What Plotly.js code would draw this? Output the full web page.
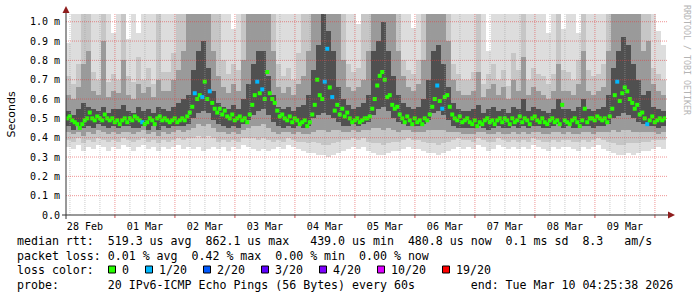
<!DOCTYPE html>
<html><head><meta charset="utf-8">
<script src="https://cdn.plot.ly/plotly-3.0.1.min.js"></script>
<style>html,body{margin:0;padding:0;background:#fff}#chart{width:697px;height:297px}</style>
</head><body><div id="chart"></div>
<script>
// ---------- data (values in milliseconds) ----------
const startTime = '2026-02-28 04:25:38';
const totalHours = 240;
const medianStepHours = 1;
const smokeStepHours = 2;

// median RTT, one value per hour
const medianRtt = [
0.50,0.51,0.49,0.48,0.47,0.45,0.47,0.49,0.50,0.53, 0.50,0.49,0.51,0.50,0.49,0.52,0.50,0.49,0.50,0.48,
0.49,0.47,0.49,0.50,0.48,0.50,0.49,0.51,0.50,0.49, 0.48,0.47,0.48,0.50,0.49,0.47,0.50,0.51,0.49,0.50,
0.49,0.48,0.49,0.50,0.48,0.49,0.50,0.49,0.51,0.53, 0.56,0.63,0.60,0.62,0.61,0.69,0.60,0.64,0.58,0.55,
0.53,0.55,0.52,0.54,0.51,0.50,0.52,0.49,0.50,0.51, 0.49,0.50,0.48,0.52,0.57,0.62,0.69,0.63,0.65,0.60,
0.74,0.63,0.60,0.58,0.54,0.51,0.52,0.50,0.49,0.51, 0.48,0.50,0.49,0.47,0.48,0.49,0.46,0.48,0.52,0.57,
0.70,0.62,0.60,0.69,0.86,0.66,0.61,0.54,0.57,0.52, 0.55,0.51,0.53,0.50,0.48,0.49,0.50,0.48,0.49,0.50,
0.50,0.51,0.55,0.60,0.67,0.72,0.74,0.70,0.61,0.62, 0.57,0.55,0.56,0.52,0.50,0.48,0.51,0.49,0.47,0.50,
0.48,0.49,0.47,0.50,0.49,0.52,0.56,0.60,0.67,0.59, 0.55,0.61,0.62,0.56,0.52,0.50,0.49,0.51,0.48,0.49,
0.50,0.48,0.47,0.49,0.46,0.48,0.47,0.49,0.50,0.48, 0.49,0.47,0.49,0.50,0.48,0.50,0.49,0.47,0.50,0.48,
0.49,0.51,0.48,0.50,0.49,0.47,0.50,0.51,0.49,0.48, 0.50,0.48,0.47,0.49,0.50,0.48,0.49,0.47,0.57,0.49,
0.48,0.47,0.49,0.50,0.48,0.46,0.49,0.55,0.48,0.50, 0.50,0.49,0.51,0.50,0.49,0.50,0.48,0.51,0.55,0.62,
0.69,0.59,0.63,0.66,0.64,0.60,0.58,0.55,0.57,0.52, 0.53,0.50,0.47,0.49,0.51,0.48,0.49,0.50,0.49,0.50
];
// lost pings (out of 20) for each median value
const lossCount = [
0,0,0,0,0,0,0,0,0,0,0,0,0,0,0,0,0,0,0,0,
0,0,0,0,0,0,0,0,0,0,1,0,0,0,0,0,0,0,0,0,
0,0,0,0,0,0,0,0,0,0,0,1,0,0,1,0,0,1,0,0,
0,0,0,0,0,0,0,0,0,0,0,0,0,0,0,0,1,0,1,0,
0,0,0,0,0,0,0,0,0,0,0,0,0,0,0,0,0,0,0,0,
0,0,0,1,1,0,1,0,0,0,0,0,0,0,0,0,0,0,0,0,
0,0,0,0,0,0,0,0,0,0,0,0,0,0,0,0,0,0,0,0,
0,0,0,0,0,0,0,0,1,0,1,0,0,0,0,0,0,0,0,0,
0,0,0,0,0,0,0,0,0,0,0,0,0,0,0,0,0,0,0,0,
0,0,0,0,0,0,0,0,0,0,0,0,0,0,0,0,0,0,0,0,
0,0,0,0,0,0,0,0,0,0,0,0,0,0,0,0,0,0,0,0,
1,0,0,0,0,0,0,0,0,0,0,0,1,0,0,0,0,0,0,0
];

// smoke: spread of the 20 pings, one column every 2 hours, outermost (1) to innermost (4)
const smokeLow1 = [
0.35,0.34,0.36,0.33,0.35,0.34,0.36,0.35,0.33,0.35, 0.34,0.36,0.35,0.33,0.35,0.36,0.34,0.35,0.33,0.35,
0.34,0.35,0.36,0.34,0.35,0.34,0.35,0.33,0.34,0.35, 0.34,0.35,0.33,0.35,0.34,0.36,0.35,0.34,0.33,0.34,
0.33,0.34,0.35,0.34,0.36,0.35,0.34,0.33,0.32,0.32, 0.31,0.31,0.30,0.31,0.32,0.33,0.34,0.35,0.34,0.35,
0.33,0.32,0.31,0.31,0.32,0.33,0.33,0.34,0.35,0.34, 0.34,0.33,0.32,0.32,0.31,0.32,0.33,0.34,0.35,0.34,
0.35,0.34,0.36,0.35,0.33,0.34,0.36,0.35,0.34,0.35, 0.34,0.35,0.34,0.36,0.35,0.34,0.33,0.35,0.34,0.35,
0.35,0.34,0.33,0.35,0.34,0.35,0.36,0.34,0.33,0.32, 0.31,0.31,0.32,0.31,0.32,0.33,0.33,0.34,0.35,0.34
];
const smokeHigh1 = [
0.89,1.10,1.10,1.10,1.10,1.10,1.10,1.10,1.10,0.94, 1.10,1.10,0.91,1.10,0.94,1.10,1.10,1.10,0.99,1.10,
1.10,1.10,1.10,1.10,1.10,1.10,1.10,1.10,1.10,1.10, 1.10,1.10,1.10,0.96,1.10,1.10,1.10,1.10,1.10,1.10,
1.10,1.10,1.10,1.10,1.10,1.10,1.10,0.96,1.10,1.10, 1.10,1.10,1.10,1.10,1.10,1.10,1.10,1.10,0.99,1.10,
1.10,1.10,1.10,1.10,1.10,1.10,1.10,1.10,1.10,0.97, 1.10,1.10,1.10,1.10,1.10,1.10,1.10,1.10,1.10,1.10,
1.10,1.10,1.10,1.10,0.85,1.10,1.10,1.10,1.10,1.10, 1.10,1.10,1.10,1.10,1.10,1.10,0.94,1.10,1.10,0.96,
1.10,1.10,0.94,1.10,1.10,1.10,1.10,1.10,1.10,1.10, 1.10,1.10,1.10,1.10,1.10,1.10,1.10,1.10,0.95,0.88
];
const smokeLow2 = [
0.39,0.38,0.40,0.37,0.39,0.38,0.40,0.39,0.38,0.39, 0.38,0.40,0.39,0.38,0.39,0.40,0.38,0.39,0.37,0.39,
0.38,0.39,0.40,0.39,0.40,0.40,0.41,0.40,0.41,0.40, 0.38,0.39,0.38,0.39,0.38,0.40,0.40,0.40,0.39,0.40,
0.39,0.38,0.39,0.38,0.40,0.39,0.38,0.38,0.37,0.38, 0.37,0.36,0.36,0.37,0.38,0.39,0.39,0.40,0.39,0.40,
0.38,0.37,0.37,0.36,0.37,0.38,0.38,0.39,0.40,0.39, 0.39,0.38,0.37,0.37,0.36,0.37,0.38,0.39,0.40,0.39,
0.39,0.38,0.40,0.39,0.38,0.38,0.40,0.39,0.38,0.39, 0.38,0.39,0.38,0.40,0.39,0.38,0.38,0.39,0.38,0.39,
0.39,0.38,0.38,0.39,0.38,0.39,0.40,0.39,0.38,0.37, 0.36,0.36,0.37,0.37,0.37,0.38,0.38,0.39,0.39,0.39
];
const smokeHigh2 = [
0.72,0.68,0.78,1.10,1.10,0.74,0.70,1.10,0.69,0.73, 0.70,1.10,0.72,0.69,0.82,0.70,0.76,0.68,1.10,0.74,
0.74,0.84,1.10,1.10,1.10,1.10,1.10,1.10,1.10,1.10, 1.10,0.80,0.73,0.78,0.75,1.10,1.10,1.10,1.10,1.10,
1.10,1.10,0.78,0.72,0.76,0.70,0.84,1.10,1.10,1.10, 1.10,1.10,1.10,1.10,1.10,1.10,0.78,0.74,0.76,1.10,
1.10,1.10,1.10,1.10,1.10,1.10,1.10,0.80,0.75,0.73, 0.80,1.10,1.10,1.10,1.10,1.10,1.10,0.78,0.73,0.70,
0.70,0.74,1.10,0.68,0.73,0.78,0.70,0.75,0.67,0.84, 0.75,1.10,0.70,0.76,0.73,0.72,0.68,0.73,1.10,0.75,
0.74,0.70,0.80,1.10,0.75,0.72,0.73,0.78,1.10,1.10, 1.10,1.10,1.10,1.10,1.10,1.10,1.10,0.76,0.73,0.70
];
const smokeLow3 = [
0.43,0.42,0.43,0.41,0.43,0.42,0.44,0.43,0.42,0.43, 0.42,0.43,0.43,0.42,0.43,0.44,0.42,0.43,0.41,0.43,
0.42,0.43,0.44,0.43,0.44,0.45,0.47,0.46,0.47,0.45, 0.43,0.43,0.42,0.43,0.42,0.44,0.45,0.46,0.46,0.47,
0.45,0.43,0.42,0.43,0.43,0.42,0.43,0.42,0.42,0.43, 0.44,0.44,0.43,0.44,0.44,0.43,0.43,0.44,0.43,0.44,
0.44,0.45,0.45,0.44,0.45,0.44,0.43,0.44,0.44,0.43, 0.43,0.43,0.44,0.44,0.44,0.44,0.43,0.43,0.43,0.42,
0.42,0.42,0.43,0.43,0.42,0.42,0.43,0.42,0.42,0.43, 0.42,0.43,0.42,0.43,0.43,0.42,0.42,0.43,0.43,0.42,
0.43,0.42,0.42,0.43,0.43,0.42,0.43,0.43,0.43,0.44, 0.43,0.44,0.44,0.43,0.43,0.43,0.43,0.43,0.42,0.43
];
const smokeHigh3 = [
0.62,0.60,0.66,0.78,0.85,0.64,0.62,0.90,0.61,0.64, 0.63,0.80,0.62,0.60,0.68,0.63,0.66,0.61,0.70,0.64,
0.64,0.70,0.75,0.85,1.10,1.10,1.10,1.10,1.10,0.85, 0.72,0.66,0.63,0.68,0.64,0.80,1.10,1.10,1.10,1.10,
1.10,0.85,0.66,0.63,0.66,0.62,0.68,0.72,0.85,1.10, 1.10,1.10,1.10,1.10,1.10,0.80,0.66,0.64,0.66,0.70,
0.85,1.10,1.10,1.10,1.10,1.10,0.85,0.72,0.66,0.64, 0.68,0.80,1.10,1.10,1.10,1.10,0.90,0.70,0.64,0.62,
0.62,0.64,0.74,0.61,0.65,0.68,0.62,0.66,0.60,0.70, 0.64,0.82,0.62,0.66,0.64,0.62,0.60,0.64,0.78,0.64,
0.64,0.62,0.68,0.85,0.64,0.62,0.64,0.66,0.85,1.10, 1.10,1.10,1.10,1.10,1.10,0.85,0.90,0.68,0.64,0.62
];
const smokeLow4 = [
0.46,0.44,0.46,0.45,0.46,0.45,0.47,0.46,0.45,0.46, 0.45,0.46,0.46,0.45,0.45,0.46,0.44,0.46,0.44,0.46,
0.45,0.46,0.46,0.46,0.47,0.50,0.53,0.54,0.53,0.49, 0.47,0.46,0.45,0.46,0.45,0.47,0.49,0.52,0.54,0.55,
0.52,0.48,0.46,0.45,0.46,0.45,0.46,0.45,0.46,0.50, 0.52,0.53,0.52,0.50,0.48,0.46,0.46,0.47,0.46,0.47,
0.48,0.52,0.55,0.56,0.54,0.50,0.48,0.47,0.46,0.46, 0.46,0.47,0.49,0.53,0.54,0.52,0.49,0.46,0.45,0.45,
0.45,0.45,0.46,0.45,0.44,0.45,0.46,0.45,0.45,0.46, 0.45,0.46,0.45,0.46,0.46,0.45,0.45,0.46,0.47,0.45,
0.46,0.45,0.45,0.46,0.46,0.45,0.46,0.46,0.47,0.50, 0.51,0.53,0.52,0.50,0.48,0.47,0.46,0.46,0.45,0.46
];
const smokeHigh4 = [
0.54,0.52,0.55,0.58,0.56,0.55,0.54,0.56,0.53,0.55, 0.55,0.57,0.54,0.53,0.56,0.54,0.55,0.53,0.56,0.55,
0.54,0.56,0.58,0.60,0.62,0.75,0.85,0.90,0.76,0.64, 0.58,0.56,0.55,0.57,0.55,0.60,0.68,0.78,0.85,0.85,
0.72,0.62,0.56,0.55,0.56,0.54,0.56,0.57,0.62,0.75, 0.88,1.10,0.95,0.85,0.66,0.60,0.57,0.55,0.56,0.58,
0.62,0.85,0.90,1.00,0.85,0.72,0.62,0.58,0.56,0.55, 0.56,0.60,0.70,0.85,0.88,0.78,0.66,0.58,0.55,0.54,
0.54,0.55,0.57,0.53,0.55,0.56,0.54,0.55,0.53,0.56, 0.55,0.60,0.54,0.56,0.55,0.54,0.53,0.55,0.60,0.55,
0.55,0.54,0.56,0.60,0.55,0.54,0.55,0.56,0.62,0.76, 0.85,0.92,0.88,0.78,0.70,0.62,0.64,0.56,0.55,0.54
];

// axis ticks
const yTickVals = [0,0.1,0.2,0.3,0.4,0.5,0.6,0.7,0.8,0.9,1.0];
const yTickText = ['0.0','0.1 m','0.2 m','0.3 m','0.4 m','0.5 m','0.6 m','0.7 m','0.8 m','0.9 m','1.0 m'];

// legend / statistics text
const lossLabels = ['0','1/20','2/20','3/20','4/20','10/20','19/20'];
const lossLevels = [0,1,2,3,4,10,19];
const lossColors = ['#26ff00','#00b8ff','#0059ff','#5e00ff','#7e00ff','#dd00ff','#ff0000'];
const statLine1 = 'median rtt:  519.3 us avg  862.1 us max   439.0 us min  480.8 us now  0.1 ms sd  8.3   am/s';
const statLine2 = 'packet loss: 0.01 % avg  0.42 % max  0.00 % min  0.00 % now';
const statLine3 = 'loss color:';
const statLine4 = 'probe:       20 IPv6-ICMP Echo Pings (56 Bytes) every 60s        end: Tue Mar 10 04:25:38 2026';
const sideText = 'RRDTOOL / TOBI OETIKER';

// ---------- build ----------
const HOUR = 3600e3;
function parseUTC(s){ const [d,t]=s.split(' '); const [Y,M,D]=d.split('-').map(Number); const [h,m,sec]=t.split(':').map(Number); return Date.UTC(Y,M-1,D,h,m,sec); }
function fmt(ms){ return new Date(ms).toISOString().slice(0,19).replace('T',' '); }
const t0 = parseUTC(startTime), t1 = t0 + totalHours*HOUR;

const PLOT = {l:66, t:14, w:600, h:201};
const pxX = px => (px - PLOT.l)/PLOT.w;
const pxY = py => (PLOT.t + PLOT.h - py)/PLOT.h;
const nb = s => s.replace(/ /g,'\u00a0');

const smokeX = smokeLow1.map((_,k)=>fmt(t0 + (k*smokeStepHours + smokeStepHours/2)*HOUR));
const bands = [
  [smokeLow1, smokeHigh1, '#dddddd'],
  [smokeLow2, smokeHigh2, '#c6c6c6'],
  [smokeLow3, smokeHigh3, '#9a9a9a'],
  [smokeLow4, smokeHigh4, '#505050']
];
const traces = bands.map(([lo,hi,c]) => ({
  type:'bar', x:smokeX, base:lo, y:hi.map((v,i)=>v-lo[i]),
  width: smokeStepHours*HOUR*1.04, marker:{color:c, line:{width:0}},
  hoverinfo:'skip', showlegend:false
}));
const colorOf = n => lossColors[Math.max(0, lossLevels.filter(l=>l<=n).length-1)];
traces.push({
  type:'scatter', mode:'markers',
  x: medianRtt.map((_,j)=>fmt(t0 + (j*medianStepHours + medianStepHours/2)*HOUR)),
  y: medianRtt,
  marker:{symbol:'square', size:4, color: lossCount.map(colorOf), line:{width:0}},
  hoverinfo:'skip', showlegend:false
});

const shapes = [];
const majorGrid = 'rgba(225,60,60,0.55)', minorGrid = 'rgba(160,160,160,0.55)';
// vertical grid: 6-hourly minor, daily major (above the smoke)
for (let t = Date.UTC(2026,1,28,6); t < t1; t += 6*HOUR) {
  const major = (new Date(t).getUTCHours() === 0);
  shapes.push({type:'line', layer:'above', xref:'x', yref:'paper', x0:fmt(t), x1:fmt(t), y0:0, y1:1,
    line:{color: major?majorGrid:minorGrid, width:1, dash:'1px,1px'}});
  if (major) shapes.push({type:'line', layer:'above', xref:'x', yref:'paper', x0:fmt(t), x1:fmt(t), y0:pxY(215), y1:pxY(218),
    line:{color:'rgba(200,40,40,0.8)', width:1}});
}
yTickVals.slice(1).forEach(v => shapes.push({type:'line', layer:'above', xref:'paper', yref:'y', x0:0, x1:pxX(668), y0:v, y1:v,
  line:{color:majorGrid, width:1, dash:'1px,1px'}}));
// axis lines and arrows
shapes.push({type:'line', layer:'above', xref:'paper', yref:'paper', x0:pxX(62), x1:pxX(669), y0:0, y1:0, line:{color:'#333', width:1}});
shapes.push({type:'line', layer:'above', xref:'paper', yref:'paper', x0:0, x1:0, y0:pxY(219), y1:pxY(11), line:{color:'#333', width:1}});
const tri = pts => 'M' + pts.map(([a,b])=>pxX(a)+','+pxY(b)).join(' L') + ' Z';
shapes.push({type:'path', layer:'above', xref:'paper', yref:'paper', path:tri([[62.5,13],[69.5,13],[66,6]]), fillcolor:'#8f1d1d', line:{width:0}});
shapes.push({type:'path', layer:'above', xref:'paper', yref:'paper', path:tri([[668,211.5],[668,218.5],[675,215]]), fillcolor:'#8f1d1d', line:{width:0}});

const mono = 'DejaVu Sans Mono';
const legFont = {family:mono, size:11.6, color:'#000'};
const annotations = [];
const textAt = (txt, xpx, ypx) => annotations.push({text:nb(txt), xref:'paper', yref:'paper', x:pxX(xpx), y:pxY(ypx),
  xanchor:'left', yanchor:'middle', showarrow:false, borderpad:0, font:legFont});
textAt(statLine1, 16, 241);
textAt(statLine2, 16, 255.5);
textAt(statLine3, 16, 270);
textAt(statLine4, 16, 284.5);
// loss colour boxes
let bx = 108;
lossLabels.forEach((lab,i) => {
  shapes.push({type:'rect', xref:'paper', yref:'paper', x0:pxX(bx+0.5), x1:pxX(bx+7.5), y0:pxY(273), y1:pxY(266),
    fillcolor:lossColors[i], line:{color:'#000', width:1}});
  textAt(lab, bx+13, 270);
  bx = bx + 13 + lab.length*7 + 17;
});
annotations.push({text:nb(sideText), xref:'paper', yref:'paper', x:pxX(687), y:pxY(60), textangle:90,
  xanchor:'center', yanchor:'middle', showarrow:false, font:{family:mono, size:8.3, color:'#b4b4b4'}});

const layout = {
  width:697, height:297,
  margin:{l:PLOT.l, r:697-PLOT.l-PLOT.w, t:PLOT.t, b:297-PLOT.t-PLOT.h, pad:0},
  paper_bgcolor:'#fff', plot_bgcolor:'#fff',
  barmode:'overlay', bargap:0, showlegend:false, hovermode:false,
  xaxis:{type:'date', range:[fmt(t0), fmt(t1)], showgrid:false, zeroline:false, showline:false,
    tick0:'2026-02-28 12:00:00', dtick:86400000, tickformat:'%d %b', ticks:'',
    ticklabelstandoff:4, tickfont:{family:mono, size:10, color:'#000'}, fixedrange:true},
  yaxis:{range:[0,1.04], tickvals:yTickVals, ticktext:yTickText, showgrid:false, zeroline:false, showline:false,
    ticks:'', ticklabelstandoff:5, tickfont:{family:mono, size:10, color:'#000'}, fixedrange:true,
    title:{text:'Seconds', font:{family:'DejaVu Sans', size:11, color:'#000'}, standoff:12}},
  shapes, annotations
};
Plotly.newPlot('chart', traces, layout, {staticPlot:true, displayModeBar:false});
</script></body></html>
